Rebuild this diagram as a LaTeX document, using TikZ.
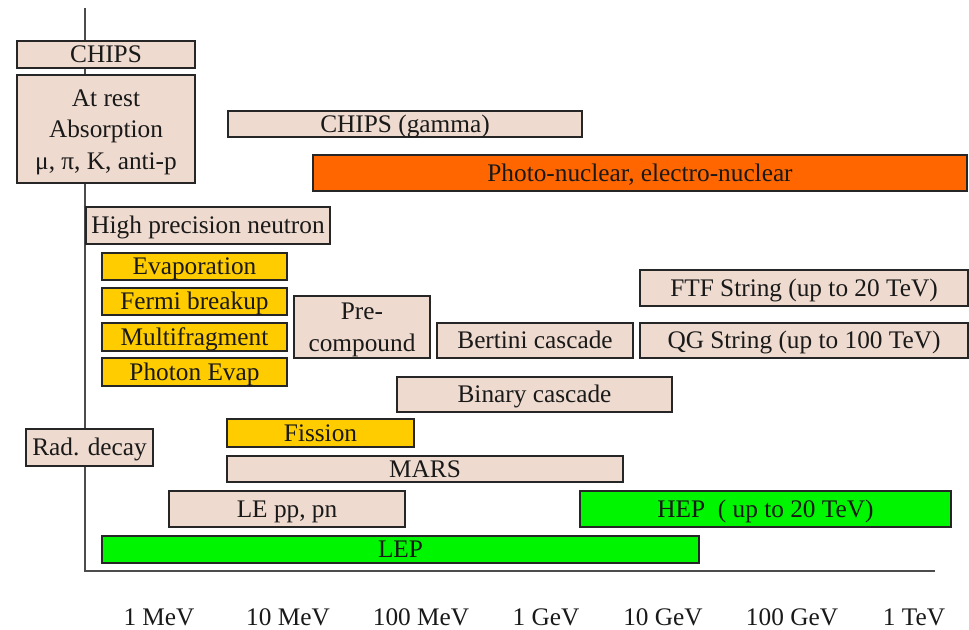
\documentclass[tikz,border=0pt]{standalone}
\usepackage{fontspec}
\setmainfont{Liberation Serif}
\usepackage{tikz}
\definecolor{paleclr}{RGB}{238,218,206}
\definecolor{goldclr}{RGB}{255,204,0}
\definecolor{limeclr}{RGB}{0,245,0}
\definecolor{orngclr}{RGB}{255,102,0}

\begin{document}
\begin{tikzpicture}[x=0.02cm, y=-0.02cm,
  every node/.style={font=\fontsize{14.4}{18}\selectfont, text=black!90, inner sep=0pt},
  lbl/.style={text height=12.5pt, text depth=3pt},
  bar/.style={draw=black!85, line width=1.2pt},
  pale/.style={bar, fill=paleclr},
  gold/.style={bar, fill=goldclr},
  lime/.style={bar, fill=limeclr},
  orng/.style={bar, fill=orngclr},
  axis/.style={draw=black!70, line width=1pt}]
  \useasboundingbox (0,0) rectangle (969,629);
  \coordinate (top) at (85,8);
  \coordinate (org) at (85,571);
  \coordinate (end) at (935,571);
  \draw [axis] (top) -- (org) -- (end);
  \draw [pale] (17,41) rectangle (195,68);
  \node [lbl] (chips) at (106,54.5) {CHIPS};
  \draw [pale] (17,75) rectangle (195,183);
  \node [align=center] (rest) at (106,132) {At rest\\Absorption\\μ, π, K, anti-p};
  \draw [pale] (228,111) rectangle (582,137);
  \node [lbl] (gamma) at (405,124) {CHIPS (gamma)};
  \draw [orng] (313,155) rectangle (967,191);
  \node [lbl] (photo) at (640,173) {Photo-nuclear, electro-nuclear};
  \draw [pale] (86,207) rectangle (330,244);
  \node [lbl] (hpn) at (208,225.5) {High precision neutron};
  \draw [gold] (102,253) rectangle (287,280);
  \node [lbl] (evap) at (194.5,266.5) {Evaporation};
  \draw [gold] (102,288) rectangle (287,315);
  \node [lbl] (fermi) at (194.5,301.5) {Fermi breakup};
  \draw [gold] (102,323) rectangle (287,351);
  \node [lbl] (multi) at (194.5,337) {Multifragment};
  \draw [gold] (102,358) rectangle (287,386);
  \node [lbl] (phevap) at (194.5,372) {Photon Evap};
  \draw [pale] (294,296) rectangle (430,358);
  \node [align=center] (precomp) at (362,330) {Pre-\\compound};
  \draw [pale] (437,323) rectangle (633,358);
  \node [lbl] (bertini) at (535,340.5) {Bertini cascade};
  \draw [pale] (640,270) rectangle (968,306);
  \node [lbl] (ftf) at (804,288) {FTF String (up to 20 TeV)};
  \draw [pale] (640,323) rectangle (968,358);
  \node [lbl] (qgs) at (804,340.5) {QG String (up to 100 TeV)};
  \draw [pale] (397,377) rectangle (672,412);
  \node [lbl] (binary) at (534.5,394.5) {Binary cascade};
  \draw [pale] (26,429) rectangle (153,466);
  \node [lbl] (rad) at (89.5,447.5) {Rad. decay};
  \draw [gold] (227,419) rectangle (414,447);
  \node [lbl] (fission) at (320.5,433) {Fission};
  \draw [pale] (227,456) rectangle (623,482);
  \node [lbl] (mars) at (425,469) {MARS};
  \draw [pale] (169,491) rectangle (405,527);
  \node [lbl] (lepp) at (287,509) {LE pp, pn};
  \draw [lime] (580,491) rectangle (951,527);
  \node [lbl] (hep) at (765.5,509) {HEP\ \ ( up to 20 TeV)};
  \draw [lime] (102,536) rectangle (699,563);
  \node [lbl] (lep) at (400.5,549.5) {LEP};
  \node [anchor=base] (e1) at (159,625) {1 MeV};
  \node [anchor=base] (e2) at (288,625) {10 MeV};
  \node [anchor=base] (e3) at (421,625) {100 MeV};
  \node [anchor=base] (e4) at (546,625) {1 GeV};
  \node [anchor=base] (e5) at (663,625) {10 GeV};
  \node [anchor=base] (e6) at (792,625) {100 GeV};
  \node [anchor=base] (e7) at (914,625) {1 TeV};
\end{tikzpicture}
\end{document}
